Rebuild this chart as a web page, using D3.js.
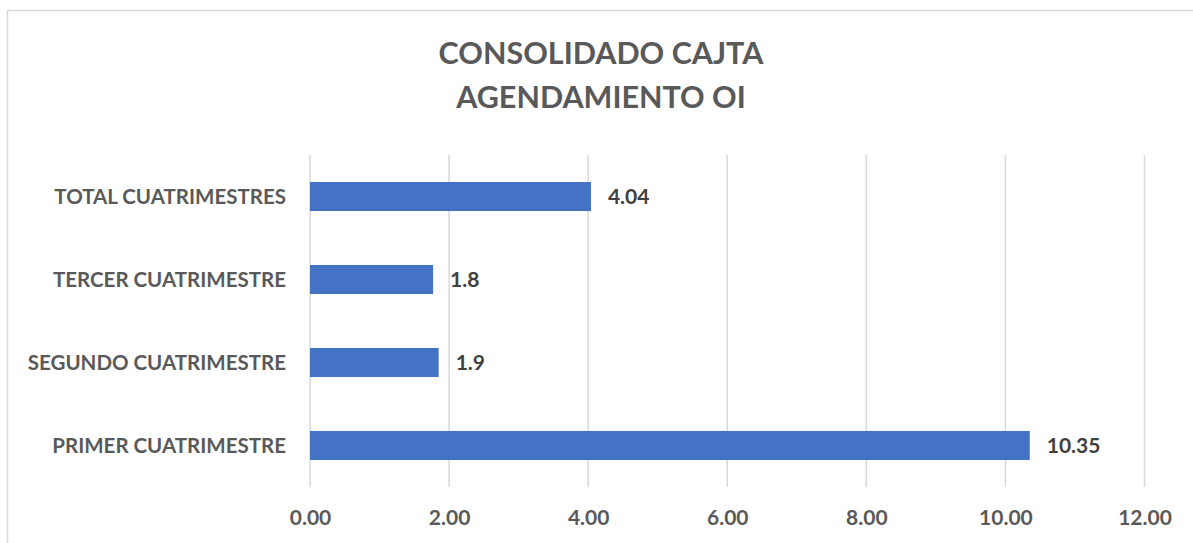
<html lang='en'>
  <head>
    <meta charset='UTF-8' />
    <script src='https://d3js.org/d3.v7.min.js'></script>
    <style>
      body { margin: 0; background: #fff; overflow: hidden; }
      svg { display: block; }
      text { font-family: Lato, 'Noto Sans', sans-serif; font-weight: bold; }
      .title { font-size: 30.5px; fill: #595959; text-anchor: middle; }
      .cat-label { font-size: 20.5px; fill: #595959; text-anchor: end; }
      .tick-label { font-size: 21px; fill: #595959; text-anchor: middle; }
      .bar-label { font-size: 21px; fill: #404040; }
    </style>
    <title>Consolidado CAJTA</title>
  </head>
  <body>
  <div id='chart'></div>
  <script>

  // data (bar lengths, labels as printed)
  const categories = ["PRIMER CUATRIMESTRE", "SEGUNDO CUATRIMESTRE", "TERCER CUATRIMESTRE", "TOTAL CUATRIMESTRES"];
  const values = [10.35, 1.85, 1.77, 4.04];
  const valueLabels = ["10.35", "1.9", "1.8", "4.04"];
  const xTicks = [0, 2, 4, 6, 8, 10, 12];
  const titleLines = ["CONSOLIDADO CAJTA", "AGENDAMIENTO OI"];

  const width = 1193;
  const height = 543;
  const margin = { top: 155, right: 48.5, bottom: 56, left: 310 };
  const innerWidth = width - margin.left - margin.right;
  const innerHeight = height - margin.top - margin.bottom;

  const svg = d3.select("#chart")
    .append("svg")
    .attr("width", width)
    .attr("height", height);

  // chart frame: only top and left edges are visible in the source
  svg.append("path")
    .attr("d", `M7.5,${height} V10.5 H${width}`)
    .attr("fill", "none")
    .attr("stroke", "#d9d9d9")
    .attr("stroke-width", 1.5);

  svg.selectAll("text.title")
    .data(titleLines)
    .join("text")
    .attr("class", "title")
    .attr("x", 601)
    .attr("y", (d, i) => 64 + i * 44)
    .text((d) => d);

  const x = d3.scaleLinear().domain([0, 12]).range([0, innerWidth]);
  const y = d3.scaleBand()
    .domain(categories.slice().reverse())
    .range([0, innerHeight])
    .paddingInner(0.65)
    .paddingOuter(0.325);

  const g = svg.append("g")
    .attr("transform", `translate(${margin.left},${margin.top})`);

  // vertical gridlines
  g.selectAll("line.grid")
    .data(xTicks)
    .join("line")
    .attr("class", "grid")
    .attr("x1", (d) => x(d))
    .attr("x2", (d) => x(d))
    .attr("y1", 0)
    .attr("y2", innerHeight)
    .attr("stroke", "#d9d9d9")
    .attr("stroke-width", 1.5);

  // bars
  g.selectAll("rect.bar")
    .data(categories)
    .join("rect")
    .attr("class", "bar")
    .attr("x", x(0))
    .attr("y", (d) => y(d))
    .attr("width", (d, i) => x(values[i]) - x(0))
    .attr("height", y.bandwidth())
    .attr("fill", "#4472c4");

  // value labels
  g.selectAll("text.bar-label")
    .data(categories)
    .join("text")
    .attr("class", "bar-label")
    .attr("x", (d, i) => x(values[i]) + 17)
    .attr("y", (d) => y(d) + y.bandwidth() / 2)
    .attr("dy", "0.36em")
    .text((d, i) => valueLabels[i]);

  // category axis
  const yAxis = g.append("g").call(d3.axisLeft(y).tickSize(0).tickPadding(24));
  yAxis.attr("fill", null).attr("font-size", null).attr("font-family", null).attr("text-anchor", null);
  yAxis.select(".domain").remove();
  yAxis.selectAll(".tick text")
    .attr("class", "cat-label")
    .attr("fill", null)
    .attr("dy", "0.36em");

  // value axis
  const xAxis = g.append("g")
    .attr("transform", `translate(0,${innerHeight})`)
    .call(d3.axisBottom(x).tickValues(xTicks).tickFormat(d3.format(".2f")).tickSize(0).tickPadding(23));
  xAxis.attr("fill", null).attr("font-size", null).attr("font-family", null).attr("text-anchor", null);
  xAxis.select(".domain").remove();
  xAxis.selectAll(".tick text")
    .attr("class", "tick-label")
    .attr("fill", null);
  </script>
  </body>
</html>
